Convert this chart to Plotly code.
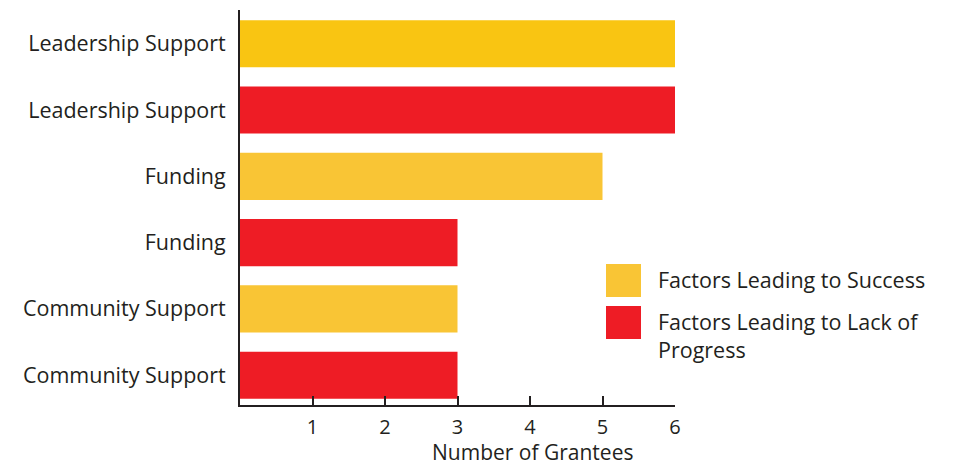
import plotly.graph_objects as go

# Data (top to bottom as shown)
categories = ["Leadership Support", "Leadership Support", "Funding", "Funding",
              "Community Support", "Community Support"]
series = ["Factors Leading to Success", "Factors Leading to Lack of Progress",
          "Factors Leading to Success", "Factors Leading to Lack of Progress",
          "Factors Leading to Success", "Factors Leading to Lack of Progress"]
values = [6, 6, 5, 3, 3, 3]
bar_colors = ["#F9C512", "#EE1C25", "#F9C535", "#EE1C25", "#F9C535", "#EE1C25"]
x_ticks = [0, 1, 2, 3, 4, 5, 6]
x_ticklabels = ["", "1", "2", "3", "4", "5", "6"]
x_title = "Number of Grantees"
legend_names = ["Factors Leading to Success", "Factors Leading to Lack of<br>Progress"]
legend_colors = ["#F9C535", "#EE1C25"]

FONT = "Open Sans"
TXT = "#231F20"
FS = 21.5

n = len(categories)
pos = [n - 1 - i for i in range(n)]

fig = go.Figure()
fig.add_trace(go.Bar(
    x=values, y=pos, orientation="h",
    marker=dict(color=bar_colors, line=dict(width=0)),
    width=0.71, showlegend=False,
    hovertext=[f"{c} – {s}" for c, s in zip(categories, series)],
))

fig.update_layout(
    width=953, height=467,
    margin=dict(l=240, r=278, t=10, b=62),
    paper_bgcolor="white", plot_bgcolor="white",
    font=dict(family=FONT, color=TXT, size=FS),
    showlegend=False,
    xaxis=dict(
        range=[0, 6], tickvals=x_ticks, ticktext=x_ticklabels,
        ticks="inside", ticklen=9, tickwidth=2, tickcolor=TXT,
        showline=True, linewidth=2, linecolor=TXT,
        showgrid=False, zeroline=False,
        tickfont=dict(size=20, color=TXT, family=FONT),
        ticklabelstandoff=3,
    ),
    yaxis=dict(
        range=[-0.45, n - 0.49], tickvals=pos, ticktext=categories,
        ticks="", showline=True, linewidth=2, linecolor=TXT,
        showgrid=False, zeroline=False,
        tickfont=dict(size=FS, color=TXT, family=FONT),
        ticklabelstandoff=8,
    ),
)

plot_w = 953 - 240 - 278
plot_h = 467 - 10 - 62

# x-axis title
fig.add_annotation(
    text=x_title, xref="paper", yref="paper",
    x=(532 - 240) / plot_w, y=-(467 - 405) / plot_h,
    xanchor="center", yanchor="bottom", borderpad=0,
    showarrow=False, font=dict(size=21, color=TXT, family=FONT),
)

# Custom legend (large swatches)
sw_tops = [264, 306]
for name, col, top in zip(legend_names, legend_colors, sw_tops):
    x0 = (606 - 240) / plot_w
    x1 = (641 - 240) / plot_w
    y1 = 1 - (top - 10) / plot_h
    y0 = 1 - (top + 33 - 10) / plot_h
    fig.add_shape(type="rect", xref="paper", yref="paper",
                  x0=x0, x1=x1, y0=y0, y1=y1,
                  fillcolor=col, line=dict(width=0))
    fig.add_annotation(
        text=name, xref="paper", yref="paper",
        x=(656 - 240) / plot_w, y=1 - (top - 1 - 10) / plot_h,
        xanchor="left", yanchor="top", align="left",
        showarrow=False, font=dict(size=FS, color=TXT, family=FONT),
    )

fig.write_html("out.html")
